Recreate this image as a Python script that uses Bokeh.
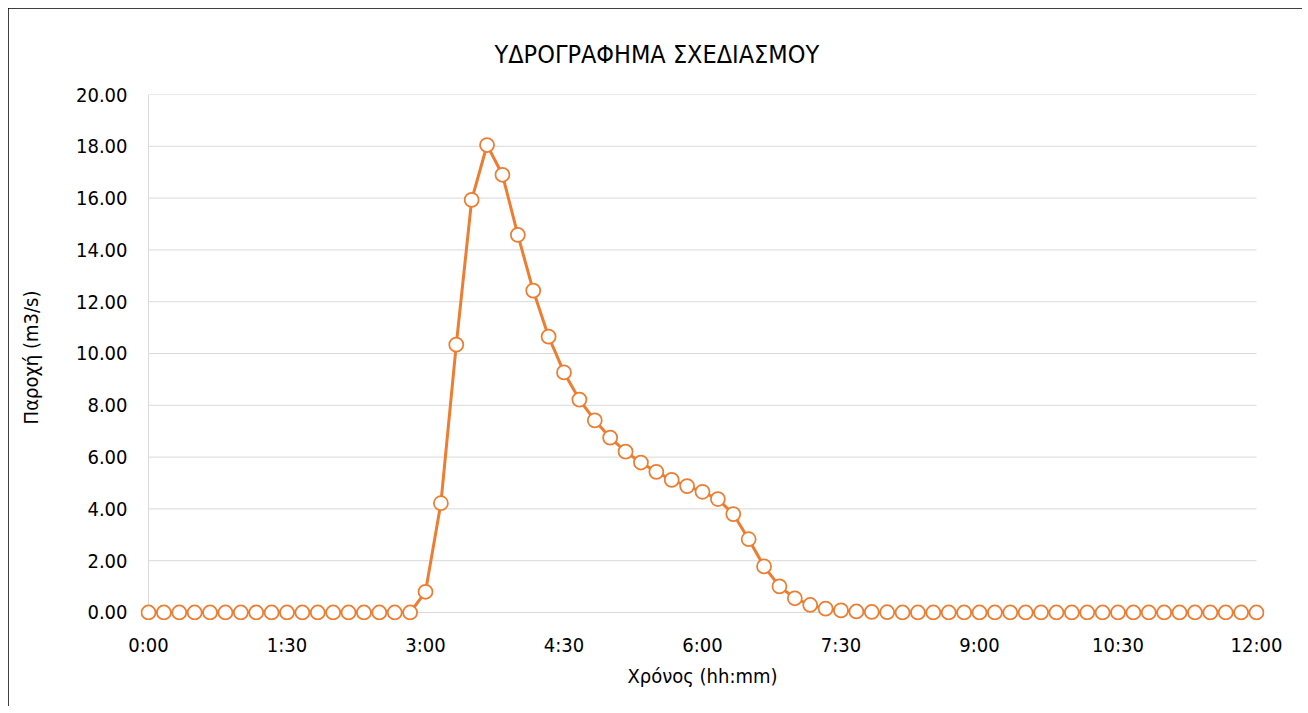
from bokeh.plotting import figure
from bokeh.models import Range1d, FixedTicker, ColumnDataSource, PrintfTickFormatter
from bokeh.embed import file_html
from bokeh.resources import INLINE

# ---------------- data ----------------
time_min = list(range(0, 721, 10))  # 10-minute steps, 0:00 .. 12:00
discharge = [
    0, 0, 0, 0, 0, 0, 0, 0, 0, 0, 0, 0, 0, 0, 0, 0, 0, 0,
    0.80, 4.22, 10.34, 15.93, 18.05, 16.90, 14.58, 12.43, 10.65, 9.27,
    8.22, 7.42, 6.75, 6.21, 5.79, 5.43, 5.12, 4.88, 4.66, 4.38,
    3.80, 2.83, 1.78, 1.01, 0.55, 0.29, 0.15, 0.08, 0.04, 0.02, 0.01,
    0, 0, 0, 0, 0, 0, 0, 0, 0, 0, 0, 0, 0, 0, 0, 0, 0, 0, 0, 0, 0, 0, 0, 0,
]
x_tick_values = [0, 90, 180, 270, 360, 450, 540, 630, 720]
x_tick_labels = ["0:00", "1:30", "3:00", "4:30", "6:00", "7:30", "9:00", "10:30", "12:00"]
y_tick_values = [0, 2, 4, 6, 8, 10, 12, 14, 16, 18, 20]

title_text = "ΥΔΡΟΓΡΑΦΗΜΑ ΣΧΕΔΙΑΣΜΟΥ"
x_label = "Χρόνος (hh:mm)"
y_label = "Παροχή (m3/s)"

# ---------------- style ----------------
FONT = "DejaVu Sans Condensed"
FSIZE = "20px"
ORANGE = "#ED7D31"
GRID = "#d9d9d9"

source = ColumnDataSource(data=dict(t=time_min, q=discharge))

p = figure(
    width=1294, height=698,
    x_range=Range1d(-5.2, 725.2),
    y_range=Range1d(-0.309, 20),
    output_backend="svg", toolbar_location=None,
    min_border_left=132, min_border_right=38,
    min_border_top=86, min_border_bottom=86,
    title=title_text,
)
p.margin = (8, 0, 0, 8)
p.outline_line_color = None
p.background_fill_color = "white"
p.border_fill_color = "white"
p.styles = {"outline": "2px solid black", "outline-offset": "-2px"}
p.xgrid.visible = False
p.ygrid.visible = False

# title (centred over the whole chart box)
p.title.align = "left"
p.title.offset = 354
p.title.standoff = 50
p.title.vertical_align = "middle"
p.title.text_font = FONT
p.title.text_font_size = "25px"
p.title.text_font_style = "normal"
p.title.text_color = "black"

# gridlines (from tick arrays) and value axis line
p.segment(x0=[x_tick_values[0]] * len(y_tick_values), x1=[x_tick_values[-1]] * len(y_tick_values),
          y0=y_tick_values, y1=y_tick_values, line_color=GRID, line_width=1)
p.segment(x0=[x_tick_values[0]], x1=[x_tick_values[0]], y0=[y_tick_values[0]], y1=[y_tick_values[-1]],
          line_color=GRID, line_width=1)

# series
p.line("t", "q", source=source, line_color=ORANGE, line_width=3)
p.scatter("t", "q", source=source, marker="circle", size=14,
          fill_color="white", line_color=ORANGE, line_width=1.75)

# x axis
p.xaxis.ticker = FixedTicker(ticks=x_tick_values)
p.xaxis.major_label_overrides = {v: l for v, l in zip(x_tick_values, x_tick_labels)}
p.xaxis.axis_line_color = None
p.xaxis.major_tick_line_color = None
p.xaxis.minor_tick_line_color = None
p.xaxis.major_label_standoff = 6
p.xaxis.axis_label = x_label
p.xaxis.axis_label_standoff = 4

# y axis
p.yaxis.ticker = FixedTicker(ticks=y_tick_values)
p.yaxis.formatter = PrintfTickFormatter(format="%.2f")
p.yaxis.axis_line_color = None
p.yaxis.major_tick_line_color = None
p.yaxis.minor_tick_line_color = None
p.yaxis.major_label_standoff = 7
p.yaxis.axis_label = y_label
p.yaxis.axis_label_standoff = 30

for ax in (p.xaxis, p.yaxis):
    ax.major_label_text_font = FONT
    ax.major_label_text_font_size = FSIZE
    ax.major_label_text_color = "black"
    ax.axis_label_text_font = FONT
    ax.axis_label_text_font_size = FSIZE
    ax.axis_label_text_font_style = "normal"
    ax.axis_label_text_color = "black"

open("out.html", "w").write(file_html(p, INLINE))
